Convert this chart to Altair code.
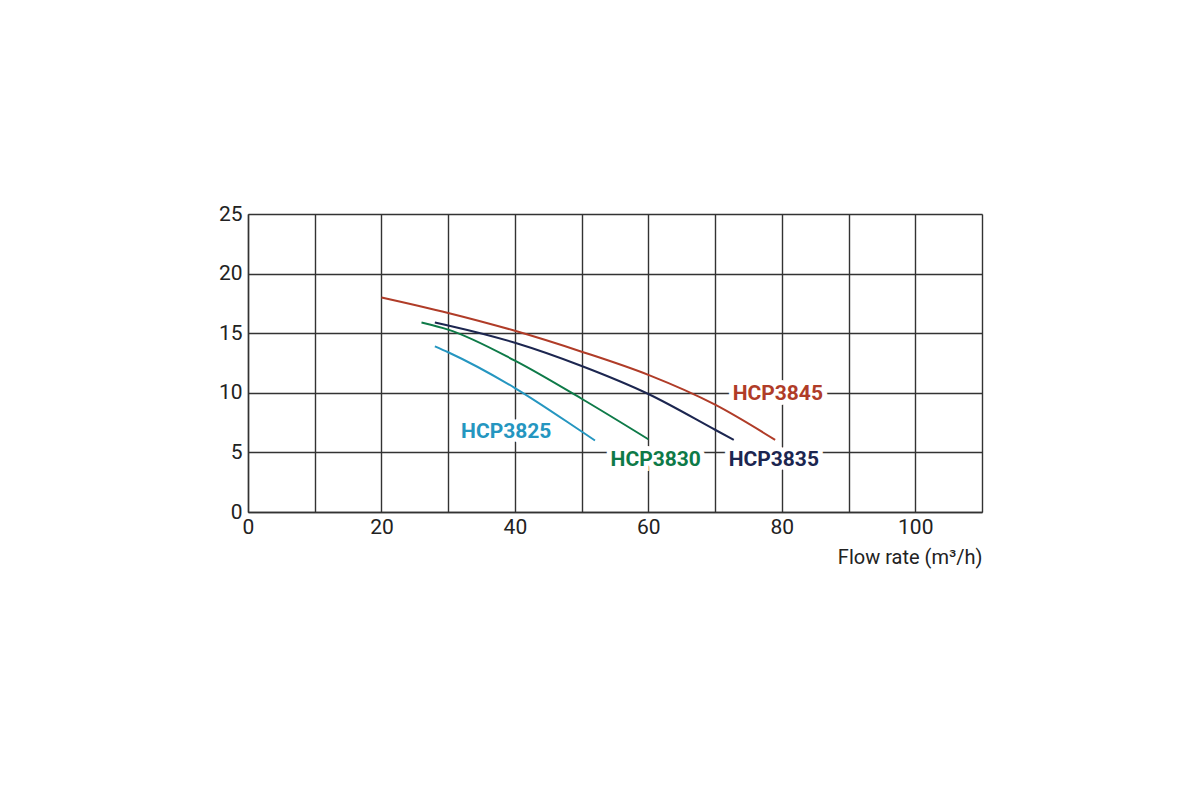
import altair as alt
import pandas as pd

# Pump curves (flow m3/h, head m)
x3845 = [20, 30, 40, 50, 60, 70, 79]
y3845 = [18.0, 16.7, 15.2, 13.45, 11.5, 9.0, 6.05]
x3835 = [28, 30, 40, 50, 60, 70, 72.8]
y3835 = [15.9, 15.65, 14.2, 12.25, 9.9, 6.9, 6.05]
x3830 = [26, 30, 40, 50, 60]
y3830 = [15.9, 15.3, 12.7, 9.5, 6.1]
x3825 = [28, 30, 40, 50, 52]
y3825 = [13.9, 13.4, 10.4, 6.75, 6.0]

names = ["HCP3845", "HCP3835", "HCP3830", "HCP3825"]
colors = ["#b03c28", "#1c2650", "#0e7a48", "#2596c0"]
label_x = [79.4, 78.8, 61.1, 38.7]
label_y = [9.9, 4.4, 4.4, 6.7]

rows = []
for n, xs, ys in zip(names, [x3845, x3835, x3830, x3825], [y3845, y3835, y3830, y3825]):
    for i, (a, b) in enumerate(zip(xs, ys)):
        rows.append({"series": n, "flow": a, "head": b, "order": i})
df = pd.DataFrame(rows)
lab = pd.DataFrame({"series": names, "flow": label_x, "head": label_y})

font = "Roboto"
xscale = alt.Scale(domain=[0, 110], nice=False, zero=True)
yscale = alt.Scale(domain=[0, 25], nice=False)
cscale = alt.Scale(domain=names, range=colors)

xaxis = alt.Axis(
    values=list(range(0, 111, 10)),
    labelExpr="datum.value % 20 == 0 && datum.value <= 100 ? datum.label : ''",
    grid=True, gridColor="#333333", gridWidth=1.4, gridOpacity=1,
    ticks=False, domain=True, domainColor="#333333", domainWidth=1.4,
    labelFont=font, labelFontSize=21, labelColor="#222222", labelPadding=4,
    labelFlush=False,
    title="Flow rate (m³/h)", titleFont=font, titleFontSize=20,
    titleFontWeight="normal", titleColor="#222222", titleAnchor="end",
    titleAlign="right", titlePadding=10,
)
yaxis = alt.Axis(
    values=[0, 5, 10, 15, 20, 25],
    grid=True, gridColor="#333333", gridWidth=1.4, gridOpacity=1,
    ticks=False, domain=True, domainColor="#333333", domainWidth=1.4,
    labelFont=font, labelFontSize=21, labelColor="#222222", labelPadding=6,
    title=None,
)

lines = alt.Chart(df).mark_line(strokeWidth=2, interpolate="monotone").encode(
    x=alt.X("flow:Q", scale=xscale, axis=xaxis),
    y=alt.Y("head:Q", scale=yscale, axis=yaxis),
    color=alt.Color("series:N", scale=cscale, legend=None),
    detail="series:N",
    order="order:Q",
)

halo = alt.Chart(lab).mark_text(
    font=font, fontSize=21, fontWeight="bold", stroke="white", strokeWidth=10,
    fill="white", align="center", baseline="middle",
).encode(x=alt.X("flow:Q", scale=xscale), y=alt.Y("head:Q", scale=yscale), text="series:N")

texts = alt.Chart(lab).mark_text(
    font=font, fontSize=21, fontWeight="bold", align="center", baseline="middle",
).encode(
    x=alt.X("flow:Q", scale=xscale), y=alt.Y("head:Q", scale=yscale),
    text="series:N", color=alt.Color("series:N", scale=cscale, legend=None),
)

chart = alt.layer(lines, halo, texts).properties(
    width=734, height=298,
    padding={"left": 210, "top": 195, "right": 5, "bottom": 5},
).configure_view(stroke="#333333", strokeWidth=1.4).configure(background="white")

chart.save("out.html", embed_options={"renderer": "svg", "actions": False})
